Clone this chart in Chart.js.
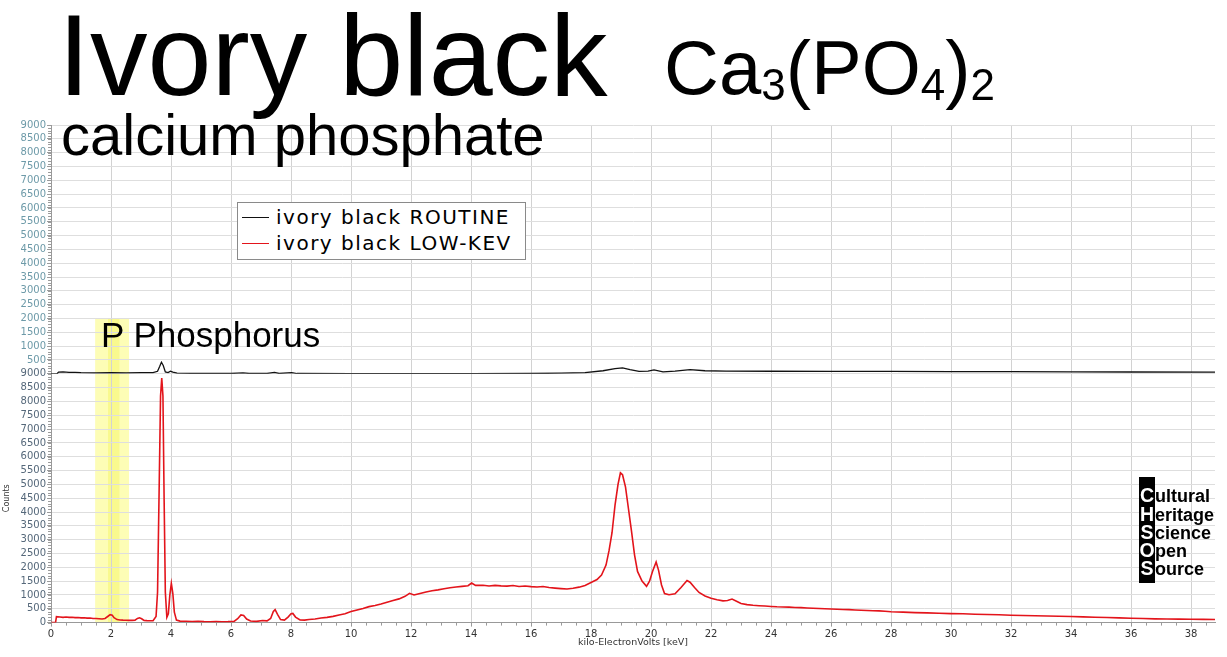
<!DOCTYPE html>
<html>
<head>
<meta charset="utf-8">
<script src="https://cdn.jsdelivr.net/npm/chart.js@4"></script>
<style>
  body { margin: 0; background: #fff; }
  #wrap { position: relative; width: 1227px; height: 657px; overflow: hidden; font-family: 'Liberation Sans', Arial, sans-serif; }
  #chart { position: absolute; left: 0; top: 0; }
  .txt { position: absolute; white-space: nowrap; line-height: 1; color: #000; }
  #title { left: 58px; top: -2.5px; font-size: 115px; }
  #subtitle { left: 61px; top: 106px; font-size: 58px; }
  #formula { left: 664px; top: 30px; font-size: 76px; }
  #formula span { font-size: 44px; vertical-align: -6px; }
  #plabel { left: 101px; top: 317px; font-size: 35px; }
  #legend { position: absolute; left: 237px; top: 202px; width: 287px; height: 55px; border: 1px solid #8a8a8a; background: #fff;
    font-family: 'DejaVu Sans', Verdana, sans-serif; font-size: 20px; letter-spacing: 1.5px; padding-top: 1px; }
  #legend .row { height: 26px; line-height: 26px; display: flex; align-items: center; }
  #legend .swatch { flex: none; width: 27px; height: 1px; margin: 0 7px 0 4px; }
  #logobar { position: absolute; left: 1139px; top: 477px; width: 16px; height: 106px; background: #000; }
  #logo { position: absolute; left: 1139px; top: 486.4px; font-family: 'Liberation Sans', Arial, sans-serif; font-weight: bold; }
  #logo div { height: 18.2px; line-height: 18.2px; font-size: 18px; white-space: nowrap; }
  #logo b { display: inline-block; width: 16px; text-align: center; color: #fff; font-size: 19.5px; }
</style>
</head>
<body>
<div id="wrap">
  <canvas id="chart" width="1227" height="657"></canvas>
  <div class="txt" id="title">Ivory black</div>
  <div class="txt" id="subtitle">calcium phosphate</div>
  <div class="txt" id="formula">Ca<span>3</span>(PO<span>4</span>)<span>2</span></div>
  <div class="txt" id="plabel">P Phosphorus</div>
  <div id="legend"></div>
  <div id="logobar"></div>
  <div id="logo">
    <div><b>C</b>ultural</div>
    <div><b>H</b>eritage</div>
    <div><b>S</b>cience</div>
    <div><b>O</b>pen</div>
    <div><b>S</b>ource</div>
  </div>
</div>
<script>
// series names
const seriesNames = ['ivory black ROUTINE', 'ivory black LOW-KEV'];

// ROUTINE spectrum (upper panel) - energy in keV, counts
const routineKev = [0, 0.2, 0.25, 0.4, 0.6, 0.8, 1.0, 1.5, 2.0, 2.5, 3.0, 3.4, 3.55, 3.62, 3.68, 3.74, 3.81, 3.9, 3.98, 4.06,
  4.2, 5.0, 6.0, 6.4, 6.6, 7.2, 7.45, 7.6, 8.02, 8.2, 10.0, 12.0, 14.0, 16.0, 17.0, 17.8, 18.4, 18.8, 19.05, 19.3,
  19.6, 19.9, 20.1, 20.4, 20.8, 21.3, 21.8, 22.5, 24.0, 26.0, 28.0, 30.0, 32.0, 34.0, 36.0, 38.8];
const routineCounts = [0, 0, 60, 66, 55, 48, 40, 36, 42, 34, 40, 44, 90, 260, 420, 300, 70, 45, 95, 60,
  22, 12, 10, 35, 12, 12, 50, 12, 42, 10, 6, 6, 8, 10, 22, 42, 110, 190, 215, 150,
  85, 95, 140, 70, 95, 150, 110, 100, 92, 90, 86, 80, 76, 70, 66, 62];

// LOW-KEV spectrum (lower panel)
const lowKev = [0, 0.15, 0.18, 0.3, 0.4, 0.5, 0.6, 0.7, 0.8, 0.9, 1.0, 1.1, 1.2, 1.3, 1.4, 1.5, 1.6, 1.7, 1.8, 1.9,
  1.97, 2.04, 2.1, 2.2, 2.3, 2.4, 2.5, 2.6, 2.7, 2.8, 2.88, 2.95, 3.02, 3.1, 3.2, 3.3, 3.4, 3.5, 3.55, 3.6,
  3.65, 3.69, 3.73, 3.77, 3.81, 3.86, 3.91, 3.96, 4.01, 4.06, 4.11, 4.18, 4.3, 4.5, 4.7, 4.9, 5.1, 5.3, 5.5, 5.7,
  5.9, 6.1, 6.22, 6.33, 6.42, 6.52, 6.65, 6.85, 7.05, 7.2, 7.32, 7.41, 7.47, 7.55, 7.65, 7.78, 7.9, 8.0, 8.06, 8.15,
  8.3, 8.45, 8.6, 8.8, 9.0, 9.2, 9.4, 9.6, 9.8, 10.0, 10.2, 10.4, 10.6, 10.8, 11.0, 11.2, 11.4, 11.6, 11.8, 11.95,
  12.1, 12.3, 12.5, 12.7, 12.9, 13.1, 13.3, 13.5, 13.7, 13.9, 14.02, 14.15, 14.4, 14.6, 14.8, 15.0, 15.2, 15.4, 15.6, 15.8,
  16.0, 16.2, 16.4, 16.6, 16.8, 17.0, 17.2, 17.4, 17.6, 17.8, 18.0, 18.2, 18.35, 18.5, 18.6, 18.7, 18.8, 18.9, 18.98, 19.05,
  19.15, 19.25, 19.35, 19.45, 19.55, 19.7, 19.85, 19.95, 20.05, 20.17, 20.25, 20.35, 20.45, 20.6, 20.8, 21.0, 21.2, 21.3, 21.45, 21.6,
  21.8, 22.0, 22.2, 22.4, 22.55, 22.7, 22.85, 23.0, 23.2, 23.4, 23.6, 23.8, 24.0, 24.2, 24.4, 24.6, 24.8, 25.0, 25.2, 25.4,
  25.6, 25.8, 26.0, 26.2, 26.4, 26.6, 26.8, 27.0, 27.2, 27.4, 27.6, 27.8, 28.0, 28.4, 28.8, 29.2, 29.6, 30.0, 30.4, 30.8,
  31.2, 31.6, 32.0, 32.4, 32.8, 33.2, 33.6, 34.0, 34.4, 34.8, 35.2, 35.6, 36.0, 36.4, 36.8, 37.2, 37.6, 38.0, 38.4, 38.8];
const lowCounts = [0, 0, 215, 205, 190, 200, 188, 192, 180, 184, 172, 176, 162, 166, 150, 146, 138, 132, 150, 230,
  285, 265, 180, 110, 96, 88, 86, 80, 82, 90, 150, 175, 140, 78, 70, 66, 72, 220, 1100, 4600,
  8200, 8850, 8200, 4400, 1100, 190, 320, 1000, 1420, 1050, 380, 90, 55, 48, 42, 45, 36, 32, 38, 30,
  34, 45, 140, 280, 260, 130, 55, 45, 75, 62, 150, 400, 470, 300, 110, 90, 200, 320, 330, 200,
  95, 88, 110, 128, 165, 190, 225, 275, 318, 400, 455, 510, 578, 620, 670, 735, 800, 858, 950, 1060,
  1000, 1055, 1105, 1150, 1185, 1225, 1262, 1288, 1312, 1335, 1430, 1345, 1352, 1322, 1345, 1328, 1318, 1342, 1308, 1322,
  1300, 1288, 1305, 1268, 1248, 1230, 1215, 1245, 1282, 1340, 1450, 1560, 1720, 2080, 2600, 3250, 4250, 5000, 5420, 5350,
  4900, 4100, 3300, 2450, 1850, 1500, 1310, 1500, 1850, 2190, 1900, 1360, 1050, 1010, 1040, 1270, 1520, 1460, 1270, 1090,
  965, 880, 825, 785, 800, 850, 770, 690, 650, 628, 612, 598, 585, 572, 566, 558, 548, 542, 528, 518,
  512, 500, 492, 485, 476, 470, 458, 448, 440, 430, 424, 410, 392, 378, 362, 352, 340, 326, 318, 302,
  292, 284, 268, 258, 248, 238, 228, 218, 206, 196, 182, 170, 160, 150, 136, 128, 124, 120, 116, 110];

// highlighted phosphorus region (keV) and top of band (upper panel counts)
const pBand = [1.47, 2.6];
const pBandCore = [1.9, 2.28];
const pBandTop = 2000;

const toPoints = (xs, ys) => xs.map((x, i) => ({ x: x, y: ys[i] }));

// yellow band behind the grid, plus minor ticks on the axes
const extras = {
  id: 'extras',
  beforeDraw(chart) {
    const { ctx, chartArea, scales } = chart;
    const x0 = scales.x.getPixelForValue(pBand[0]);
    const x1 = scales.x.getPixelForValue(pBand[1]);
    const c0 = scales.x.getPixelForValue(pBandCore[0]);
    const c1 = scales.x.getPixelForValue(pBandCore[1]);
    const top = scales.yTop.getPixelForValue(pBandTop);
    ctx.save();
    ctx.fillStyle = '#fdfdb6';
    ctx.fillRect(x0, top, x1 - x0, chartArea.bottom - top);
    ctx.fillStyle = '#f9f98e';
    ctx.fillRect(c0, top, c1 - c0, chartArea.bottom - top);
    ctx.restore();
  },
  afterDatasetsDraw(chart) {
    const { ctx, chartArea, scales } = chart;
    ctx.save();
    ctx.strokeStyle = '#9a9a9a';
    ctx.lineWidth = 1;
    ctx.beginPath();
    ['yTop', 'yBot'].forEach(id => {
      const s = scales[id];
      for (let v = 0; v <= 9000; v += 100) {
        const y = Math.round(s.getPixelForValue(v)) + 0.5;
        ctx.moveTo(chartArea.left - 3, y);
        ctx.lineTo(chartArea.left, y);
      }
    });
    for (let k = 0; k <= 38.8; k += 0.5) {
      const x = Math.round(scales.x.getPixelForValue(k)) + 0.5;
      ctx.moveTo(x, chartArea.bottom);
      ctx.lineTo(x, chartArea.bottom + 3);
    }
    ctx.stroke();
    ctx.restore();
  }
};

const tickFont = { family: "'DejaVu Sans', Verdana, sans-serif", size: 10 };

const chart = new Chart(document.getElementById('chart'), {
  type: 'line',
  data: {
    datasets: [
      { label: seriesNames[0], data: toPoints(routineKev, routineCounts), yAxisID: 'yTop',
        borderColor: '#111', borderWidth: 1.3 },
      { label: seriesNames[1], data: toPoints(lowKev, lowCounts), yAxisID: 'yBot',
        borderColor: '#e3141b', borderWidth: 1.6 }
    ]
  },
  options: {
    responsive: false,
    animation: false,
    events: [],
    layout: { padding: { top: 125, right: 12, bottom: 9, left: 0 } },
    elements: { point: { radius: 0 }, line: { tension: 0 } },
    plugins: { legend: { display: false }, tooltip: { enabled: false } },
    scales: {
      x: {
        type: 'linear', min: 0, max: 38.8,
        ticks: { stepSize: 2, includeBounds: false, autoSkip: false, maxRotation: 0, padding: 2, color: '#333', font: tickFont },
        grid: { color: '#d2d2d2', tickLength: 4, tickColor: '#999' },
        border: { color: '#999' },
        title: { display: true, text: 'kilo-ElectronVolts [keV]', color: '#333', padding: { top: -6, bottom: 0 },
          font: { family: "'DejaVu Sans', Verdana, sans-serif", size: 9.5 } }
      },
      // the stack places the later-defined axis on top
      yBot: {
        type: 'linear', position: 'left', stack: 'panels', stackWeight: 1, min: 0, max: 9000,
        ticks: { stepSize: 500, autoSkip: false, padding: 1, color: '#55687a', font: tickFont,
          callback: v => String(v) },
        grid: { color: '#dedede', tickLength: 4, tickColor: '#999' },
        border: { color: '#999', width: 1 },
        title: { display: true, text: 'Counts', color: '#333', padding: { top: 2, bottom: 8 },
          font: { family: "'DejaVu Sans', Verdana, sans-serif", size: 8 } }
      },
      yTop: {
        type: 'linear', position: 'left', stack: 'panels', stackWeight: 1, min: 0, max: 9000,
        ticks: { stepSize: 500, autoSkip: false, padding: 1, color: '#6d9aa8', font: tickFont,
          callback: v => (v === 0 ? '' : String(v)) },
        grid: { color: '#dedede', tickLength: 4, tickColor: '#999' },
        border: { color: '#999', width: 1 }
      }
    }
  },
  plugins: [extras]
});

// html legend built from the datasets
const legend = document.getElementById('legend');
chart.data.datasets.forEach(ds => {
  const row = document.createElement('div');
  row.className = 'row';
  const sw = document.createElement('span');
  sw.className = 'swatch';
  sw.style.background = ds.borderColor;
  const label = document.createElement('span');
  label.textContent = ds.label;
  row.appendChild(sw);
  row.appendChild(label);
  legend.appendChild(row);
});
</script>
</body>
</html>
